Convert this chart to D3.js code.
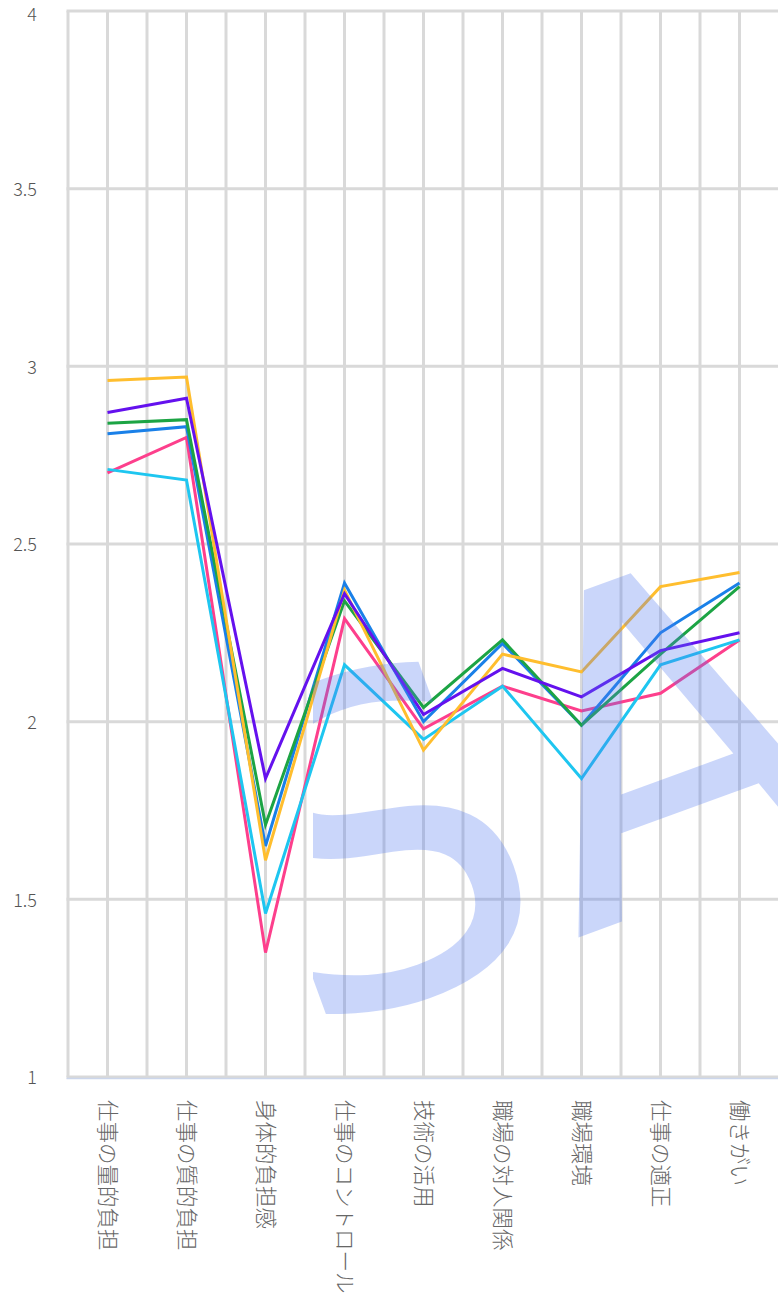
<!DOCTYPE html>
<html><head><meta charset="utf-8">
<script src="https://cdn.jsdelivr.net/npm/d3@7/dist/d3.min.js"></script>
<style>
html,body{margin:0;padding:0;background:#fff;overflow:hidden;}
svg{display:block;}
</style></head>
<body>
<svg id="c" width="778" height="1302"></svg>
<script>
const categories = ["仕事の量的負担","仕事の質的負担","身体的負担感","仕事のコントロール","技術の活用","職場の対人関係","職場環境","仕事の適正","働きがい"];
const yTicks = [1,1.5,2,2.5,3,3.5,4];
const yTickLabels = ["1","1.5","2","2.5","3","3.5","4"];
const seriesPink   = [2.70,2.80,1.35,2.29,1.98,2.10,2.03,2.08,2.23];
const seriesCyan   = [2.71,2.68,1.46,2.16,1.95,2.10,1.84,2.16,2.23];
const seriesBlue   = [2.81,2.83,1.65,2.39,2.00,2.22,1.99,2.25,2.39];
const seriesGreen  = [2.84,2.85,1.71,2.34,2.04,2.23,1.99,2.19,2.38];
const seriesYellow = [2.96,2.97,1.61,2.37,1.92,2.19,2.14,2.38,2.42];
const seriesPurple = [2.87,2.91,1.84,2.36,2.02,2.15,2.07,2.20,2.25];
const series = [
  {values: seriesPink,   color:"#fd3f8c"},
  {values: seriesCyan,   color:"#1ec6f0"},
  {values: seriesBlue,   color:"#1a80e8"},
  {values: seriesGreen,  color:"#1ca444"},
  {values: seriesYellow, color:"#ffbe2e"},
  {values: seriesPurple, color:"#6411ee"}
];

const svg = d3.select("#c");
const pL = 68, pR = 779, pT = 11, pB = 1077;
const x = d3.scaleBand().domain(categories).range([pL, pR]).padding(0);
const y = d3.scaleLinear().domain([1,4]).range([pB, pT]);
const grid = "#d9d9d9";

svg.append("defs").append("clipPath").attr("id","wm")
  .append("rect").attr("x",313).attr("y",0).attr("width",500).attr("height",1302);

const g = svg.append("g");
const vx = [];
categories.forEach(c => { vx.push(x(c)); vx.push(x(c) + x.bandwidth()/2); });
g.selectAll("line.v").data(vx).join("line")
  .attr("x1", d=>d).attr("x2", d=>d).attr("y1", pT).attr("y2", pB)
  .attr("stroke", grid).attr("stroke-width", 3);
g.selectAll("line.h").data(yTicks).join("line")
  .attr("x1", pL-1.5).attr("x2", 778).attr("y1", d=>y(d)).attr("y2", d=>y(d))
  .attr("stroke", grid).attr("stroke-width", 3);
svg.append("line").attr("x1", pL-1.5).attr("x2", 778).attr("y1", pB+1.5).attr("y2", pB+1.5)
  .attr("stroke", "#ccd6eb").attr("stroke-width", 1.5);

svg.append("g").selectAll("text").data(yTicks).join("text")
  .attr("x", 37).attr("y", d=>Math.max(y(d)+1, 15)).attr("dy", "0.36em")
  .attr("text-anchor", "end")
  .attr("font-family", "'Noto Sans CJK JP', 'Noto Sans', sans-serif")
  .attr("font-weight", 300)
  .attr("font-size", 18).attr("fill", "#555")
  .text((d,i)=>yTickLabels[i]);

svg.append("g").selectAll("text").data(categories).join("text")
  .attr("transform", d=>`translate(${x(d)+x.bandwidth()/2},1100) rotate(90)`)
  .attr("dy", "0.36em")
  .attr("text-anchor", "start")
  .attr("font-family", "'Noto Sans CJK JP', sans-serif")
  .attr("font-weight", 300)
  .attr("font-size", 21.5).attr("fill", "#666")
  .text(d=>d);

const line = d3.line().x((d,i)=>x(categories[i]) + x.bandwidth()/2).y(d=>y(d));
svg.append("g").selectAll("path").data(series).join("path")
  .attr("d", d=>line(d.values))
  .attr("fill", "none").attr("stroke", d=>d.color)
  .attr("stroke-width", 3).attr("stroke-linejoin", "miter");

svg.append("g").attr("clip-path","url(#wm)").append("text")
  .attr("transform", "translate(302,1038) rotate(-20)")
  .attr("font-family", "'DejaVu Sans', sans-serif")
  .attr("font-size", 445)
  .attr("fill", "rgb(80,120,240)").attr("fill-opacity", 0.3)
  .text("SAMPLE");
</script>
</body></html>
